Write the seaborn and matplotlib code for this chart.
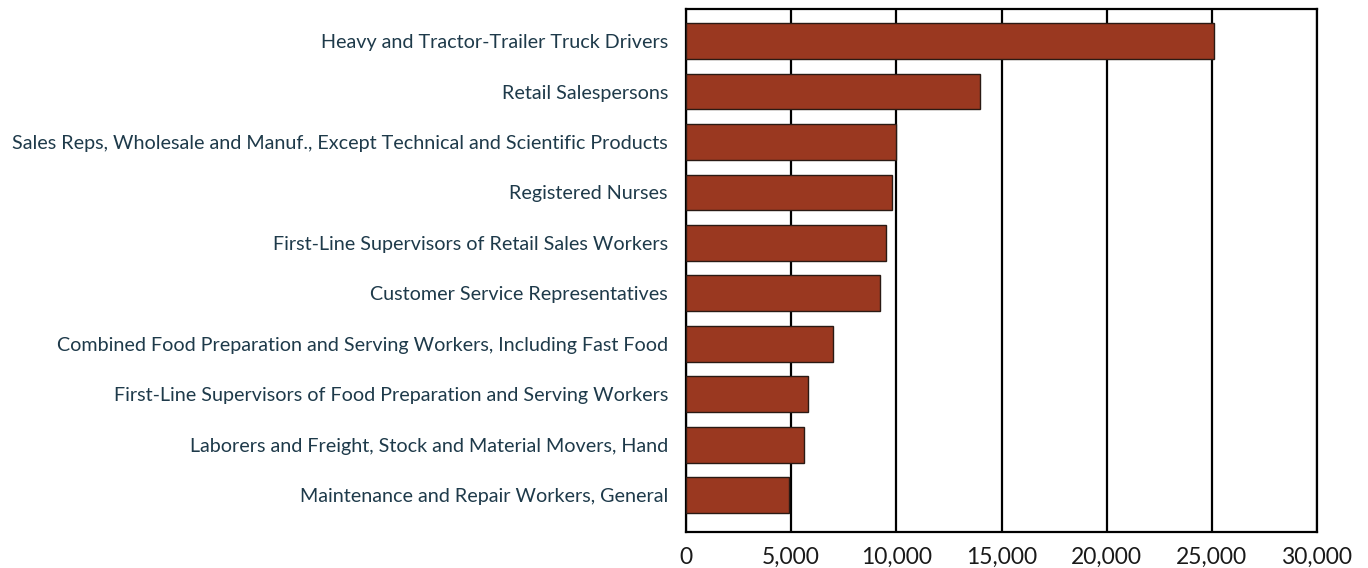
import matplotlib
matplotlib.use("Agg")
import matplotlib.pyplot as plt
import seaborn as sns
import pandas as pd
from matplotlib.ticker import FuncFormatter

# Occupations, top to bottom
occupations = [
    "Heavy and Tractor-Trailer Truck Drivers",
    "Retail Salespersons",
    "Sales Reps, Wholesale and Manuf., Except Technical and Scientific Products",
    "Registered Nurses",
    "First-Line Supervisors of Retail Sales Workers",
    "Customer Service Representatives",
    "Combined Food Preparation and Serving Workers, Including Fast Food",
    "First-Line Supervisors of Food Preparation and Serving Workers",
    "Laborers and Freight, Stock and Material Movers, Hand",
    "Maintenance and Repair Workers, General",
]
openings = [25100, 13970, 9990, 9800, 9500, 9230, 7000, 5780, 5590, 4890]
x_ticks = [0, 5000, 10000, 15000, 20000, 25000, 30000]

df = pd.DataFrame({"occupation": occupations, "openings": openings})

sns.set_style("white")
plt.rcParams["font.family"] = ["Lato", "DejaVu Sans"]

fig = plt.figure(figsize=(13.68, 5.68), dpi=100)
ax = fig.add_axes([0.5015, 0.0634, 0.4612, 0.9216])

sns.barplot(
    data=df, x="openings", y="occupation", orient="h",
    color="#9a3820", saturation=1, width=0.71,
    edgecolor="#2a1a14", linewidth=1.0, ax=ax, zorder=3,
)

ax.set_xlim(0, 30000)
ax.set_ylim(9.73, -0.645)
ax.set_xticks(x_ticks)
ax.xaxis.set_major_formatter(FuncFormatter(lambda v, _: f"{int(v):,}"))
ax.grid(axis="x", color="black", linewidth=1.6, zorder=0)
ax.grid(axis="y", visible=False)
ax.set_axisbelow(True)

for side in ["top", "bottom", "left", "right"]:
    ax.spines[side].set_visible(True)
    ax.spines[side].set_color("black")
    ax.spines[side].set_linewidth(1.6)

ax.tick_params(axis="both", length=0)
ax.tick_params(axis="y", labelsize=14.2, labelcolor="#1e3a4a", pad=13)
ax.tick_params(axis="x", labelsize=16.5, labelcolor="#1a1a1a", pad=11)
ax.set_xlabel("")
ax.set_ylabel("")

plt.savefig("out.png", dpi=100)
plt.close()
